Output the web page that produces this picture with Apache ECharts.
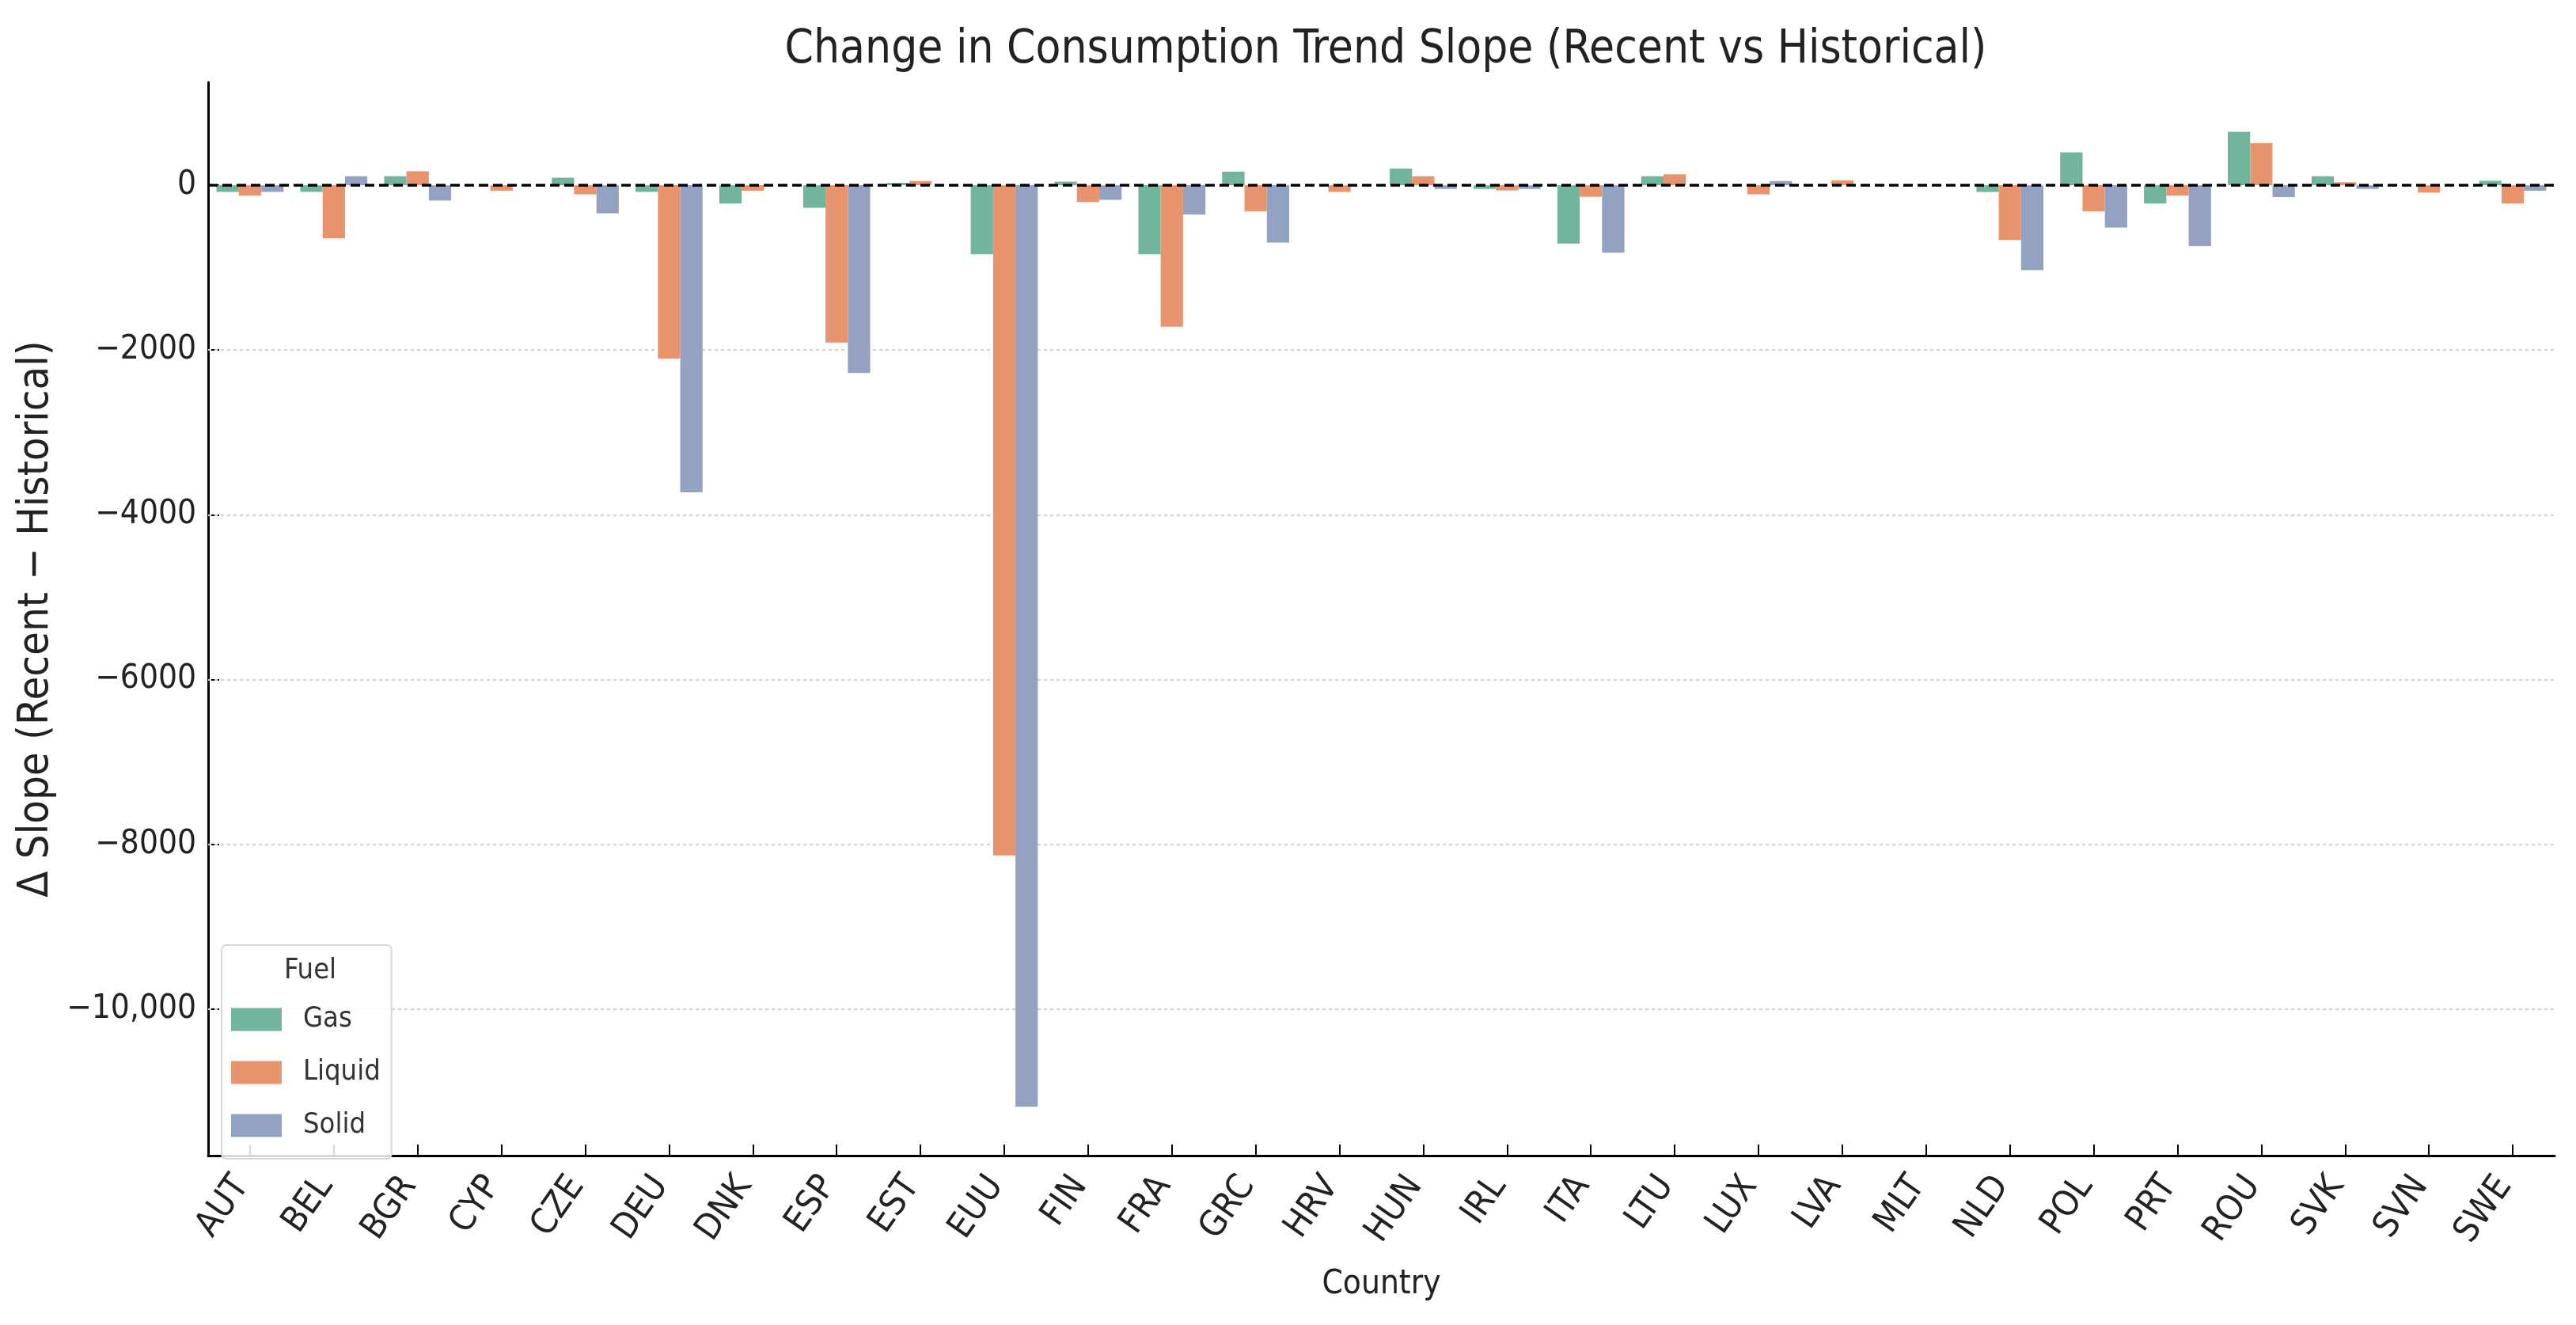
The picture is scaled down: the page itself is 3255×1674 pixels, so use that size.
<!DOCTYPE html>
<html><head><meta charset="utf-8">
<script src="https://cdn.jsdelivr.net/npm/echarts@6/dist/echarts.min.js"></script>
<style>html,body{margin:0;padding:0;background:#fff}#c{width:3255px;height:1674px}</style>
</head><body><div id="c"></div>
<script>
const categories = ['AUT','BEL','BGR','CYP','CZE','DEU','DNK','ESP','EST','EUU','FIN','FRA','GRC','HRV','HUN','IRL','ITA','LTU','LUX','LVA','MLT','NLD','POL','PRT','ROU','SVK','SVN','SWE'];
const gasValues    = [-80, -80, 110, 0, 92, -80, -221, -273, 30, -838, 44, -838, 166, 0, 203, -44, -708, 110, 0, 0, 0, -81, 399, -221, 649, 110, 0, 55];
const liquidValues = [-125, -642, 170, -66, -110, -2103, -66, -1908, 52, -8135, -203, -1716, -317, -81, 110, -63, -140, 133, -110, 59, 0, -664, -317, -125, 513, 37, -89, -221];
const solidValues  = [-80, 110, -185, 0, -340, -3727, 0, -2280, 0, -11186, -177, -354, -697, 0, -44, -44, -819, 0, 52, 0, 0, -1030, -513, -738, -144, -44, 0, -66];
const seriesNames = ['Gas','Liquid','Solid'];
const yTickValues = [-10000, -8000, -6000, -4000, -2000, 0];
const yTickLabels = ['\u221210,000', '\u22128000', '\u22126000', '\u22124000', '\u22122000', '0'];
const gridLineValues = [-10000, -8000, -6000, -4000, -2000];

const FONT = "'DejaVu Sans Condensed','DejaVu Sans',sans-serif";
const colors = ['#72b59d', '#e8956f', '#93a2c2'];
const chart = echarts.init(document.getElementById('c'));
const values = [gasValues, liquidValues, solidValues];

const series = seriesNames.map((n, i) => ({
  name: n, type: 'bar', data: values[i],
  barGap: '0%', barCategoryGap: '20%',
  itemStyle: { color: colors[i] },
  z: 3
}));
series[0].markLine = {
  silent: true, symbol: 'none', label: { show: false },
  lineStyle: { color: '#d0d0d0', type: [4, 4], width: 2 },
  data: gridLineValues.map(v => ({ yAxis: v })), z: 1
};
series[1].markLine = {
  silent: true, symbol: 'none', label: { show: false },
  lineStyle: { color: '#000', type: [12, 6], width: 3.5 },
  data: [{ yAxis: 0 }], z: 10
};

chart.setOption({
  animation: false,
  color: colors,
  title: [{
    text: 'Change in Consumption Trend Slope (Recent vs Historical)',
    left: 1746, top: 30, textAlign: 'center',
    textStyle: { fontFamily: FONT, fontSize: 58, fontWeight: 'normal', color: '#222' }
  }, {
    text: 'Fuel', left: 387, top: 1204, textAlign: 'center',
    textStyle: { fontFamily: FONT, fontSize: 36, fontWeight: 'normal', color: '#333' }
  }],
  legend: {
    orient: 'vertical', left: 280, top: 1194,
    data: seriesNames,
    itemWidth: 64, itemHeight: 29, itemGap: 31,
    padding: [76, 14, 24, 12],
    borderColor: '#d9d9d9', borderWidth: 2, borderRadius: 6,
    backgroundColor: 'rgba(255,255,255,0.85)',
    icon: 'rect',
    textStyle: { fontFamily: FONT, fontSize: 36, color: '#333', padding: [0, 0, 0, 22] }
  },
  grid: { left: 263, right: 27, top: 104, bottom: 214, containLabel: false },
  xAxis: {
    type: 'category', data: categories, boundaryGap: true,
    name: 'Country', nameLocation: 'middle', nameGap: 142,
    nameTextStyle: { fontFamily: FONT, fontSize: 42, color: '#222' },
    axisLine: { onZero: false, lineStyle: { color: '#000', width: 3 } },
    axisTick: { show: true, inside: true, alignWithLabel: true, length: 14, lineStyle: { color: '#000', width: 2 } },
    axisLabel: { rotate: 55, fontFamily: FONT, fontSize: 45, color: '#222', margin: 16, padding: [0, 18, 0, 0], interval: 0 },
    splitLine: { show: false }
  },
  yAxis: {
    type: 'value', min: -11780, max: 1250,
    name: '\u0394 Slope (Recent \u2212 Historical)', nameLocation: 'middle', nameGap: 184,
    nameTextStyle: { fontFamily: FONT, fontSize: 54, color: '#222' },
    axisLine: { show: true, lineStyle: { color: '#000', width: 3 } },
    axisTick: { show: true, inside: true, length: 14, customValues: yTickValues, lineStyle: { color: '#000', width: 2 } },
    axisLabel: {
      customValues: yTickValues, fontFamily: FONT, fontSize: 42, color: '#222', margin: 15,
      formatter: v => { const k = yTickValues.indexOf(v); return k >= 0 ? yTickLabels[k] : ''; }
    },
    splitLine: { show: false }
  },
  series: series
});
</script></body></html>
